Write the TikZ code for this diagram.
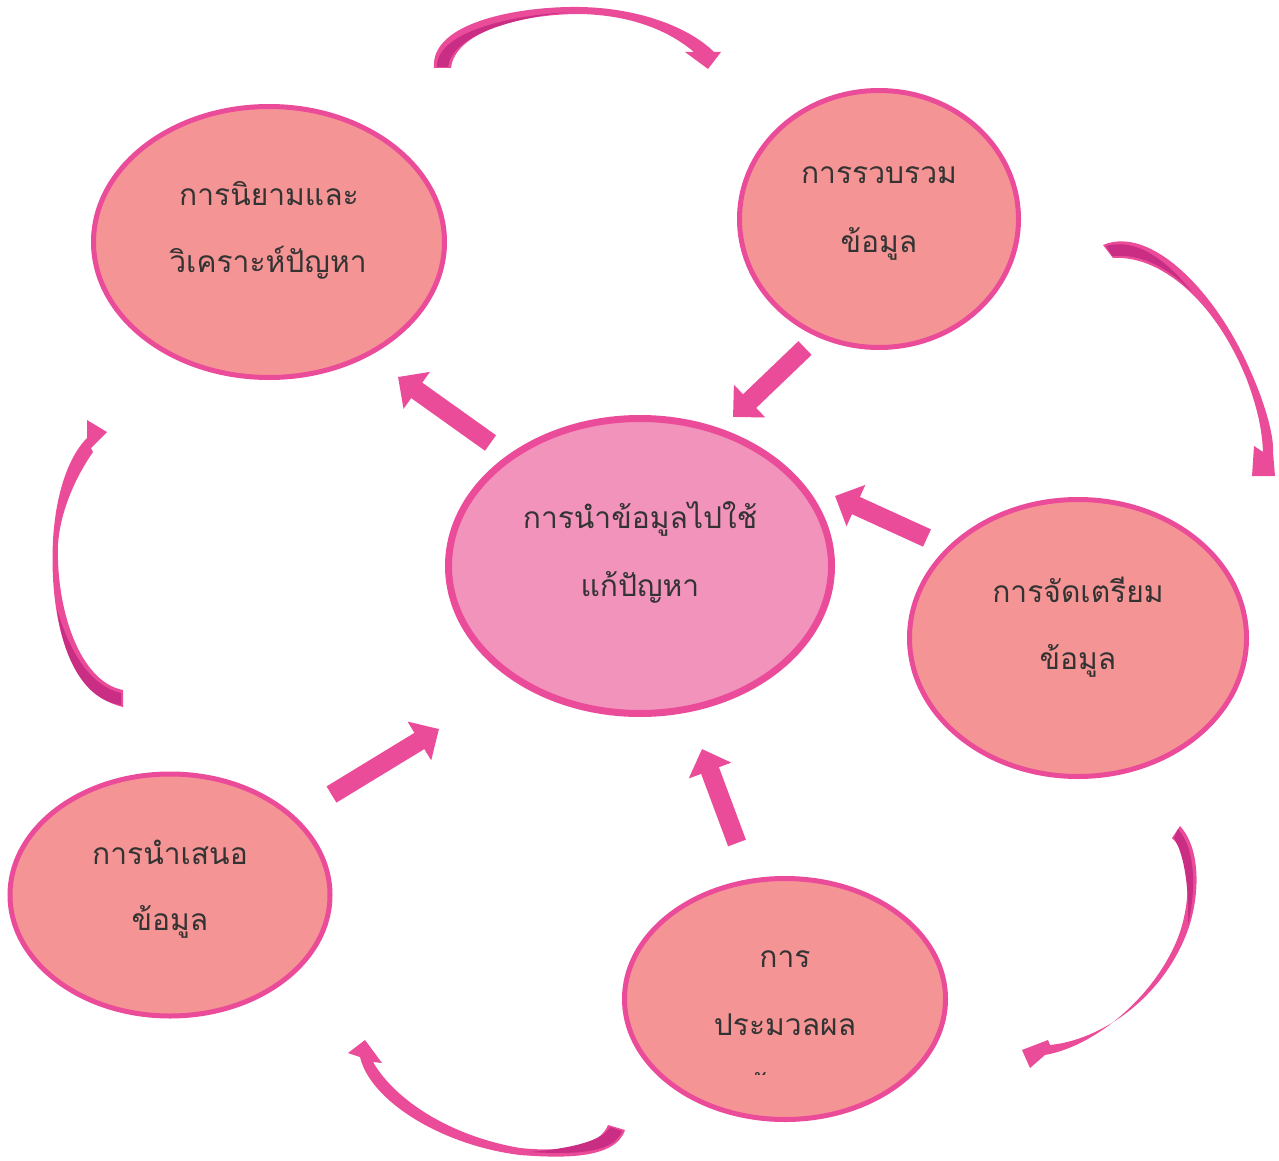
\documentclass[tikz,border=0pt]{standalone}
\usepackage{fontspec}
\newfontfamily\thaifont[Script=Thai]{Loma}
\usetikzlibrary{shapes.geometric,arrows.meta}
\definecolor{bubfill}{HTML}{F59494}
\definecolor{hubfill}{HTML}{F293BC}
\definecolor{rim}{HTML}{EA4C9A}
\definecolor{rimdark}{HTML}{C92E84}
\definecolor{ink}{HTML}{333333}
\begin{document}
\begin{tikzpicture}[x=1pt,y=-1pt,
  bub/.style={ellipse, draw=rim, line width=5pt, fill=bubfill, inner sep=0pt},
  hub/.style={ellipse, draw=rim, line width=7pt, fill=hubfill, inner sep=0pt},
  lbl/.style={font=\thaifont\fontsize{30}{36}\selectfont, text=ink, anchor=base, inner sep=0pt},
  push/.style={draw=rim, line width=19pt, -{Triangle[width=44pt,length=23pt]}},
  ribbon/.style={fill=rim},
  ribbondark/.style={fill=rimdark}]
\useasboundingbox (0,0) rectangle (1279,1161);

% bubbles
\node[bub, minimum width=351pt, minimum height=271pt] (define) at (269,242) {};
\node[bub, minimum width=279pt, minimum height=257pt] (collect) at (879,219) {};
\node[hub, minimum width=383pt, minimum height=295pt] (hub) at (640,566) {};
\node[bub, minimum width=337pt, minimum height=277pt] (prepare) at (1078,638) {};
\node[bub, minimum width=321pt, minimum height=241pt] (process) at (785,999) {};
\node[bub, minimum width=320pt, minimum height=242pt] (present) at (170,895) {};

% labels
\node[lbl] (define1) at (269,205) {การนิยามและ};
\node[lbl] (define2) at (268,272) {วิเคราะห์ปัญหา};
\node[lbl] (collect1) at (879,184) {การรวบรวม};
\node[lbl] (collect2) at (879,252) {ข้อมูล};
\node[lbl] (hub1) at (640,528) {การนำข้อมูลไปใช้};
\node[lbl] (hub2) at (640,596) {แก้ปัญหา};
\node[lbl] (prepare1) at (1078,602) {การจัดเตรียม};
\node[lbl] (prepare2) at (1078,669) {ข้อมูล};
\node[lbl] (process1) at (785,967) {การ};
\node[lbl] (process2) at (785,1035) {ประมวลผล};
% the third line only shows its top edge
\begin{scope}
  \clip (700,1060) rectangle (870,1074);
  \node[lbl] (process3) at (785,1097) {ข้อมูล};
\end{scope}
\node[lbl] (present1) at (170,864) {การนำเสนอ};
\node[lbl] (present2) at (170,930) {ข้อมูล};

% straight block arrows around the hub
\coordinate (a1s) at (490.5,443);  \coordinate (a1e) at (398,377);
\coordinate (a2s) at (805,348);    \coordinate (a2e) at (733,417);
\coordinate (a3s) at (927,538);    \coordinate (a3e) at (835,496);
\coordinate (a4s) at (737,843);    \coordinate (a4e) at (702,749);
\coordinate (a5s) at (331.5,794.5);\coordinate (a5e) at (439,729);
\draw[push] (a1s) -- (a1e);
\draw[push] (a2s) -- (a2e);
\draw[push] (a3s) -- (a3e);
\draw[push] (a4s) -- (a4e);
\draw[push] (a5s) -- (a5e);

% curved ribbon arrows of the outer cycle
% top
\fill[ribbon] (434,68) .. controls (430,22) and (520,6) .. (580,7)
  .. controls (640,8) and (690,28) .. (714,52)
  -- (721,52) -- (708,69) -- (685,52) -- (694,52)
  .. controls (668,30) and (630,15) .. (580,14)
  .. controls (520,14) and (455,32) .. (451,68) -- cycle;
\fill[ribbondark] (437,67) .. controls (436,35) and (500,16) .. (570,12)
  .. controls (510,18) and (452,36) .. (448,67) -- cycle;
% upper right
\fill[ribbon] (1103,245) .. controls (1150,225) and (1215,290) .. (1250,370)
  .. controls (1268,410) and (1274,440) .. (1273,452)
  -- (1275,476) -- (1252,476) -- (1254,446) -- (1263,452)
  .. controls (1262,430) and (1258,410) .. (1247,380)
  .. controls (1215,300) and (1160,255) .. (1113,258) -- cycle;
\fill[ribbondark] (1106,246) .. controls (1135,238) and (1165,258) .. (1192,292)
  .. controls (1165,265) and (1140,254) .. (1112,256) -- cycle;
% lower right
\fill[ribbon] (1180,826) .. controls (1202,850) and (1200,900) .. (1186,935)
  .. controls (1160,1000) and (1100,1040) .. (1050,1045)
  -- (1048,1040) -- (1022,1050) -- (1030,1068) -- (1045,1055)
  .. controls (1100,1045) and (1160,990) .. (1180,932)
  .. controls (1192,895) and (1190,855) .. (1172,838) -- cycle;
\fill[ribbondark] (1178,829) .. controls (1196,850) and (1196,890) .. (1188,925)
  .. controls (1189,890) and (1185,856) .. (1174,838) -- cycle;
% bottom
\fill[ribbon] (625,1130) .. controls (615,1160) and (560,1158) .. (520,1155)
  .. controls (440,1145) and (370,1100) .. (360,1057)
  -- (348,1053) -- (365,1040) -- (382,1063) -- (373,1062)
  .. controls (395,1100) and (450,1136) .. (520,1148)
  .. controls (570,1153) and (600,1145) .. (608,1125) -- cycle;
\fill[ribbondark] (622,1131) .. controls (614,1152) and (580,1155) .. (530,1152)
  .. controls (575,1148) and (603,1140) .. (610,1127) -- cycle;
% left
\fill[ribbon] (123,707) .. controls (60,692) and (50,600) .. (53,540)
  .. controls (56,490) and (70,455) .. (87,438)
  -- (87,420) -- (107,432) -- (91,448) -- (93,452)
  .. controls (75,478) and (60,512) .. (58,545)
  .. controls (56,610) and (80,682) .. (123,690) -- cycle;
\fill[ribbondark] (121,705) .. controls (85,700) and (64,660) .. (57,610)
  .. controls (70,652) and (90,686) .. (121,693) -- cycle;
\end{tikzpicture}
\end{document}
